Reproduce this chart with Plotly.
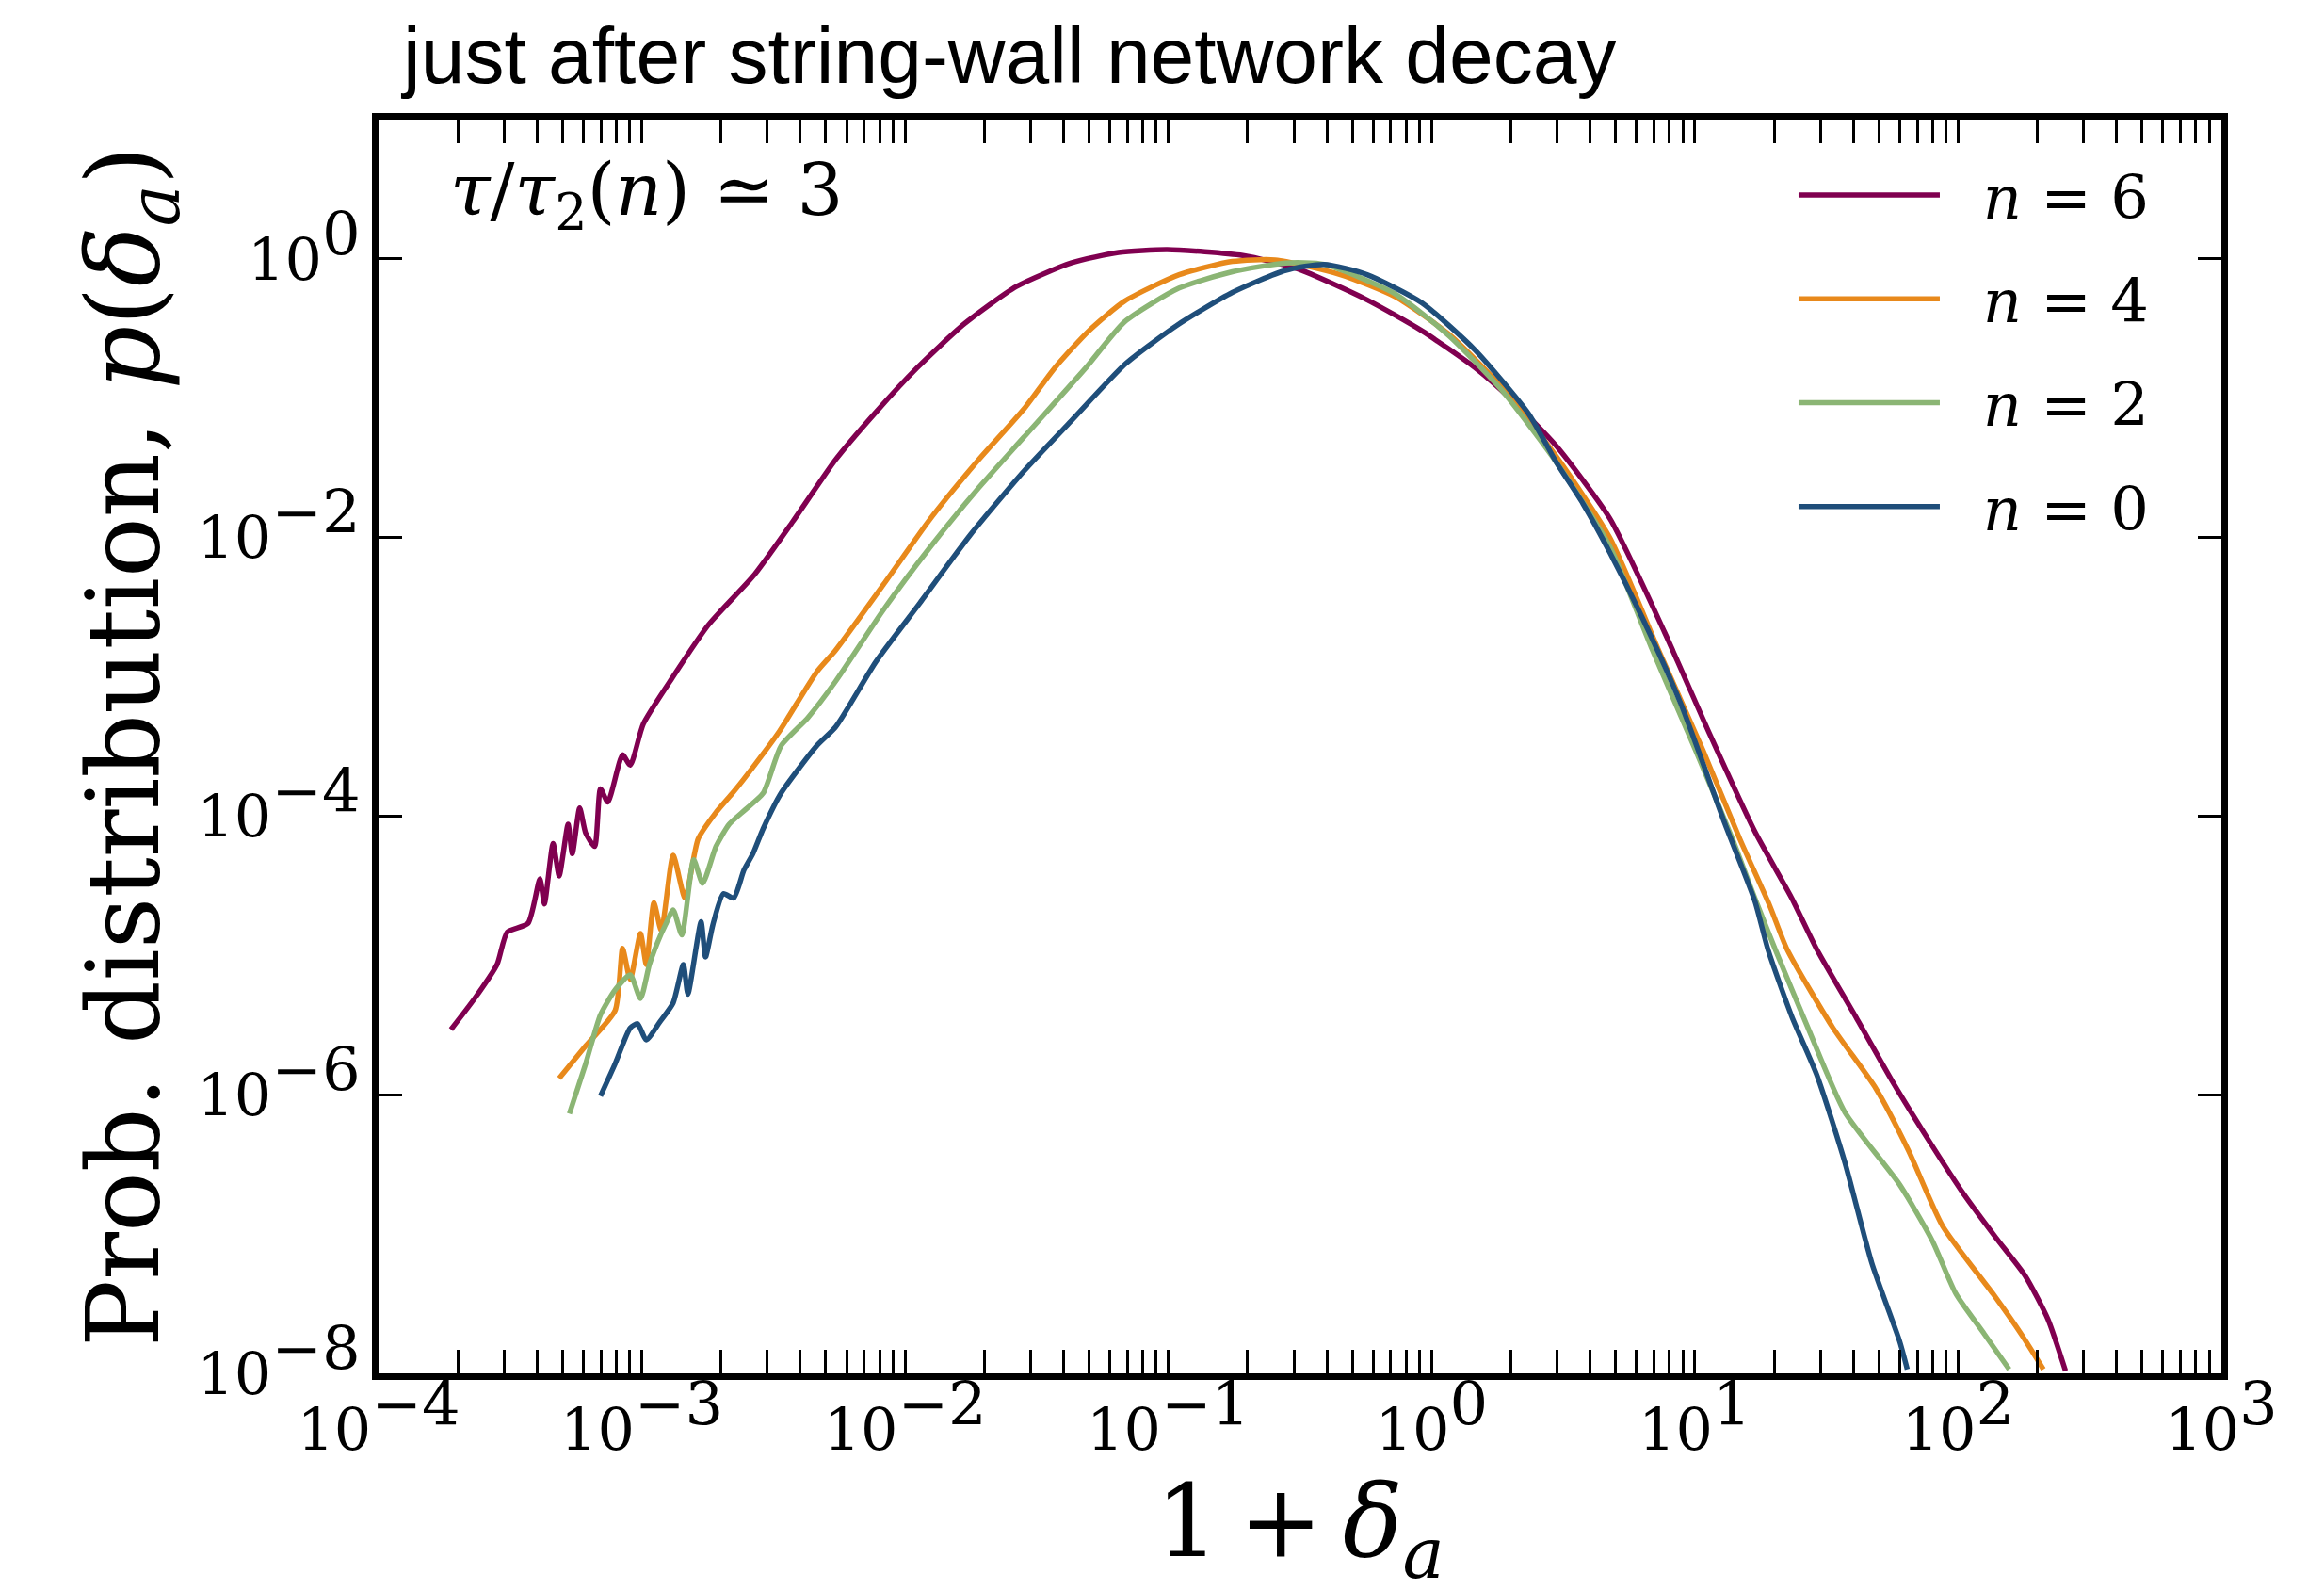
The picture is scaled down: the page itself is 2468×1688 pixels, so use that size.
import plotly.graph_objects as go

# ---- data (log10 of 1+delta_a, log10 of p) ----
n6_log10_x = [-3.725, -3.635, -3.550, -3.511, -3.432, -3.387, -3.370, -3.337, -3.314, -3.280,
              -3.264, -3.236, -3.213, -3.179, -3.157, -3.129, -3.073, -3.044, -2.994, -2.881,
              -2.747, -2.572, -2.426, -2.263, -2.111, -1.954, -1.780, -1.577, -1.369, -1.189,
              -1.004, -0.717, -0.509, -0.245, -0.037, 0.165, 0.306, 0.474, 0.677, 0.885,
              1.059, 1.228, 1.368, 1.464, 1.610, 1.750, 1.885, 2.020, 2.144, 2.256, 2.341, 2.408]
n6_log10_p = [-5.532, -5.309, -5.065, -4.832, -4.769, -4.450, -4.631, -4.196, -4.429, -4.058,
              -4.270, -3.941, -4.122, -4.217, -3.804, -3.899, -3.560, -3.634, -3.337, -2.998,
              -2.627, -2.266, -1.884, -1.439, -1.100, -0.781, -0.474, -0.198, -0.029, 0.046,
              0.067, 0.024, -0.071, -0.294, -0.516, -0.781, -1.015, -1.343, -1.863, -2.680,
              -3.422, -4.111, -4.588, -4.959, -5.437, -5.903, -6.317, -6.709, -7.027, -7.303, -7.610, -7.982]

n4_log10_x = [-3.314, -3.213, -3.101, -3.073, -3.044, -3.005, -2.983, -2.954, -2.926, -2.881,
              -2.836, -2.786, -2.718, -2.651, -2.572, -2.477, -2.336, -2.263, -2.083, -1.903,
              -1.729, -1.549, -1.431, -1.302, -1.167, -0.959, -0.757, -0.594, -0.346, -0.138,
              0.064, 0.266, 0.474, 0.677, 0.862, 1.031, 1.171, 1.284, 1.351, 1.525,
              1.688, 1.812, 1.941, 2.133, 2.239, 2.324]
n4_log10_p = [-5.882, -5.649, -5.394, -4.949, -5.172, -4.843, -5.065, -4.620, -4.822, -4.281,
              -4.588, -4.164, -3.973, -3.825, -3.634, -3.390, -2.966, -2.807, -2.340, -1.863,
              -1.460, -1.078, -0.781, -0.516, -0.304, -0.113, -0.018, -0.007, -0.113, -0.272,
              -0.538, -0.919, -1.418, -2.001, -2.807, -3.528, -4.164, -4.641, -4.959, -5.521,
              -5.956, -6.402, -6.942, -7.430, -7.716, -7.971]

n2_log10_x = [-3.275, -3.213, -3.157, -3.101, -3.044, -3.005, -2.971, -2.938, -2.910, -2.881,
              -2.848, -2.803, -2.769, -2.718, -2.668, -2.606, -2.539, -2.471, -2.370, -2.263,
              -2.083, -1.903, -1.729, -1.549, -1.313, -1.167, -0.959, -0.757, -0.554, -0.408,
              -0.138, 0.064, 0.266, 0.474, 0.677, 0.834, 1.003, 1.143, 1.228, 1.306,
              1.430, 1.570, 1.778, 1.902, 1.992, 2.099, 2.194]
n2_log10_p = [-6.136, -5.776, -5.426, -5.246, -5.140, -5.309, -5.065, -4.896, -4.779, -4.673,
              -4.853, -4.313, -4.482, -4.217, -4.058, -3.952, -3.835, -3.496, -3.295, -3.030,
              -2.521, -2.065, -1.662, -1.280, -0.781, -0.453, -0.209, -0.092, -0.029, -0.039,
              -0.251, -0.548, -0.941, -1.460, -2.065, -2.786, -3.528, -4.164, -4.588, -4.959,
              -5.521, -6.126, -6.645, -7.048, -7.430, -7.716, -7.971]

n0_log10_x = [-3.157, -3.101, -3.044, -3.016, -2.983, -2.932, -2.881, -2.842, -2.825, -2.775,
              -2.758, -2.730, -2.690, -2.651, -2.612, -2.578, -2.539, -2.471, -2.336, -2.263,
              -2.111, -1.943, -1.752, -1.549, -1.369, -1.161, -0.965, -0.757, -0.554, -0.408,
              -0.245, -0.037, 0.165, 0.368, 0.474, 0.575, 0.677, 0.800, 0.946, 1.115,
              1.228, 1.278, 1.368, 1.464, 1.570, 1.672, 1.778, 1.807]
n0_log10_p = [-6.009, -5.776, -5.521, -5.490, -5.606, -5.479, -5.341, -5.065, -5.278, -4.758,
              -5.012, -4.779, -4.556, -4.588, -4.387, -4.270, -4.090, -3.835, -3.496, -3.358,
              -2.892, -2.468, -1.980, -1.524, -1.163, -0.750, -0.474, -0.241, -0.082, -0.039,
              -0.113, -0.315, -0.654, -1.110, -1.460, -1.757, -2.107, -2.574, -3.189, -4.058,
              -4.610, -4.959, -5.437, -5.861, -6.486, -7.207, -7.770, -7.971]

series_names = ["<i>n</i> = 6", "<i>n</i> = 4", "<i>n</i> = 2", "<i>n</i> = 0"]
series_colors = ["#800050", "#E8891B", "#8BB574", "#1F4E7A"]
series_x = [n6_log10_x, n4_log10_x, n2_log10_x, n0_log10_x]
series_p = [n6_log10_p, n4_log10_p, n2_log10_p, n0_log10_p]

x_tick_exponents = [-4, -3, -2, -1, 0, 1, 2, 3]
y_tick_exponents = [-8, -6, -4, -2, 0]

title_text = "just after string-wall network decay"
note_text = "<i>τ</i>/<i>τ</i><sub>2</sub>(<i>n</i>) ≃ 3"
x_title = "1\u2009+\u2009<i>δ</i><sub><i>a</i></sub>"
y_title = "Prob. distribution, <i>p</i>(<i>δ</i><sub><i>a</i></sub>)"


def sup_label(e):
    s = str(e).replace("-", "\u2212")
    return "10<sup><span style='font-size:64px'>" + s + "</span></sup>"


SERIF = "DejaVu Serif"

fig = go.Figure()
for name, col, lx, lp in zip(series_names, series_colors, series_x, series_p):
    fig.add_trace(go.Scatter(
        x=[10 ** v for v in lx], y=[10 ** v for v in lp],
        mode="lines", name="&nbsp;&nbsp;" + name, legendgroup=name,
        line=dict(color=col, width=5.5, shape="spline", smoothing=0.6),
    ))

minor_vals = [m * 10.0 ** k for k in range(-4, 3) for m in range(2, 10)]

fig.update_layout(
    width=2468, height=1688,
    margin=dict(l=394, r=117, t=119, b=238),
    paper_bgcolor="white", plot_bgcolor="white",
    font=dict(family=SERIF, color="black", size=62),
    showlegend=True,
    legend=dict(
        x=0.768, y=0.976, xanchor="left", yanchor="top",
        bgcolor="rgba(0,0,0,0)", borderwidth=0,
        font=dict(family=SERIF, size=64, color="black"),
        itemwidth=150, traceorder="grouped", tracegroupgap=24,
    ),
    xaxis=dict(
        type="log", range=[-4, 3],
        tickmode="array",
        tickvals=[10.0 ** e for e in x_tick_exponents],
        ticktext=[sup_label(e) for e in x_tick_exponents],
        ticks="inside", ticklen=25, tickwidth=2.5, tickcolor="black",
        showline=True, linecolor="black", linewidth=7, mirror="allticks",
        showgrid=False, zeroline=False,
        tickfont=dict(family=SERIF, size=62, color="black"),
        minor=dict(tickmode="array", tickvals=minor_vals, ticks="inside",
                   ticklen=25, tickwidth=2.5, tickcolor="black", showgrid=False),
        title=dict(text=x_title, font=dict(family=SERIF, size=106, color="black"), standoff=16),
    ),
    yaxis=dict(
        type="log", range=[-8, 1],
        tickmode="array",
        tickvals=[10.0 ** e for e in y_tick_exponents],
        ticktext=[sup_label(e) for e in y_tick_exponents],
        ticks="inside", ticklen=25, tickwidth=2.5, tickcolor="black",
        showline=True, linecolor="black", linewidth=7, mirror="allticks",
        showgrid=False, zeroline=False,
        tickfont=dict(family=SERIF, size=62, color="black"),
        title=dict(text=y_title, font=dict(family=SERIF, size=106, color="black"), standoff=8),
    ),
    annotations=[
        dict(text=title_text, xref="paper", yref="paper", x=0.0105, y=1.051,
             xanchor="left", yanchor="middle", showarrow=False,
             font=dict(family="Liberation Sans", size=84, color="black")),
        dict(text=note_text, xref="paper", yref="paper", x=0.0376, y=0.94,
             xanchor="left", yanchor="middle", showarrow=False,
             font=dict(family=SERIF, size=77, color="black")),
    ],
)

fig.write_html("out.html")
